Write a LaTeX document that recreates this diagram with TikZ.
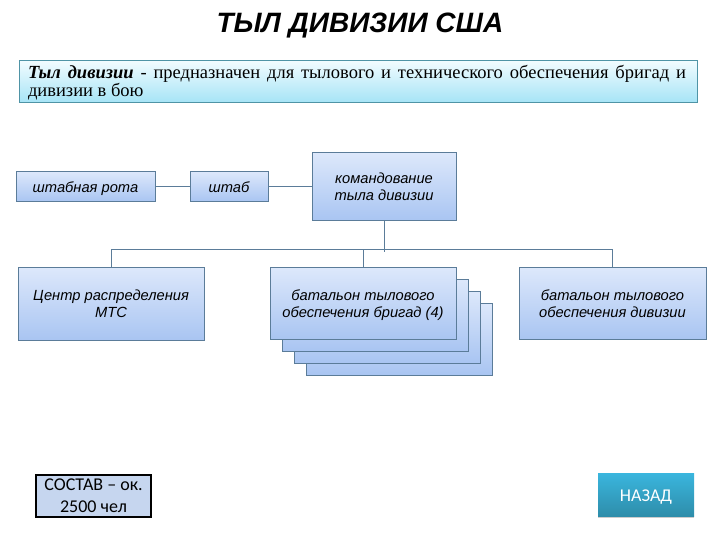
\documentclass[tikz,border=0pt]{standalone}
\usepackage{fontspec}
\setmainfont{Liberation Serif}
\setsansfont{Liberation Sans}
\newfontfamily\calibrifont{Carlito}
\usetikzlibrary{shadows}

\definecolor{unittop}{HTML}{DDE8FB}
\definecolor{unitbottom}{HTML}{A9C5F2}
\definecolor{unitline}{HTML}{5B7C99}
\definecolor{notetop}{HTML}{F2FCFF}
\definecolor{notebottom}{HTML}{A6E4F6}
\definecolor{notelinecolor}{HTML}{4F94A6}
\definecolor{backtop}{HTML}{3AB6DE}
\definecolor{backbottom}{HTML}{2E8DAA}
\definecolor{countfill}{HTML}{C6D6EF}

\tikzset{
    unitbox/.style={draw=unitline, line width=0.8pt, top color=unittop, bottom color=unitbottom,
        inner sep=0pt, align=center, font=\sffamily\itshape\fontsize{14.7}{17}\selectfont,
        execute at begin node=\rule{0pt}{15pt}, execute at end node=\rule[-3pt]{0pt}{3pt}},
    twoline/.style={execute at begin node=\rule{0pt}{31.5pt}},
    link/.style={draw=unitline, line width=0.8pt}
}

\begin{document}
\begin{tikzpicture}[x=1pt, y=-1pt]

% Page frame
\useasboundingbox (0,0) rectangle (720,540);

% Define a variable for spacing
\def\stackstep{12}
\def\busy{249}

% Title and definition
\node[inner sep=0pt, font=\sffamily\bfseries\itshape\fontsize{28}{32}\selectfont] (title) at (360,26) {ТЫЛ ДИВИЗИИ США};
\node[draw=notelinecolor, line width=0.8pt, top color=notetop, bottom color=notebottom, inner sep=0pt,
    minimum width=678pt, minimum height=42pt] (note) at (358,81.5) {};
\node[inner sep=0pt, text width=658pt, font=\fontsize{18.5}{17}\selectfont, align=justify] (notetext) at (357,82.5)
    {\textbf{\textit{Тыл дивизии}} - предназначен для тылового и технического обеспечения бригад и\linebreak дивизии в бою};

% Upper row
\node[unitbox, minimum width=139pt, minimum height=30pt] (rota) at (85.5,186.5) {штабная рота};
\node[unitbox, minimum width=78pt, minimum height=30pt] (shtab) at (229,186.5) {штаб};
\node[unitbox, twoline, minimum width=144pt, minimum height=68pt] (komand) at (384,186.5) {командование\\тыла дивизии};

% Lower row
\node[unitbox, twoline, minimum width=186pt, minimum height=73pt] (centr) at (111,303.5) {Центр распределения\\МТС};
\foreach \i in {3,2,1} {
    \node[unitbox, minimum width=186pt, minimum height=72pt] (stack\i) at ({363+\stackstep*\i}, {303+\stackstep*\i}) {};
}
\node[unitbox, twoline, minimum width=186pt, minimum height=72pt] (batbrig) at (363,303) {батальон тылового\\обеспечения бригад (4)};
\node[unitbox, twoline, minimum width=187pt, minimum height=72pt] (batdiv) at (612.5,303) {батальон тылового\\обеспечения дивизии};

% Bottom row
\node[draw=black, line width=2pt, fill=countfill, inner sep=0pt, minimum width=115pt, minimum height=42pt,
    align=center, font=\calibrifont\fontsize{18}{22}\selectfont] (sostav) at (93.5,495.5) {СОСТАВ – ок.\\2500 чел};
\node[top color=backtop, bottom color=backbottom, inner sep=0pt, minimum width=96pt, minimum height=43pt,
    drop shadow={shadow xshift=0pt, shadow yshift=-2pt, opacity=0.4}, text=white,
    font=\calibrifont\fontsize{18}{20}\selectfont] (nazad) at (646,494.5) {\rule{0pt}{16pt}НАЗАД};

% Connections
\coordinate (busl) at (111,\busy);
\coordinate (busr) at (612.5,\busy);
\coordinate (komandend) at (384,252);
\draw[link] (rota) -- (shtab);
\draw[link] (shtab) -- (komand);
\draw[link] (komand.south) -- (komandend);
\draw[link] (busl) -- (busr);
\draw[link] (busl) -- (centr.north);
\draw[link] (busr) -- (batdiv.north);
\draw[link] (batbrig.north) -- (batbrig.north |- busl);

\end{tikzpicture}
\end{document}
